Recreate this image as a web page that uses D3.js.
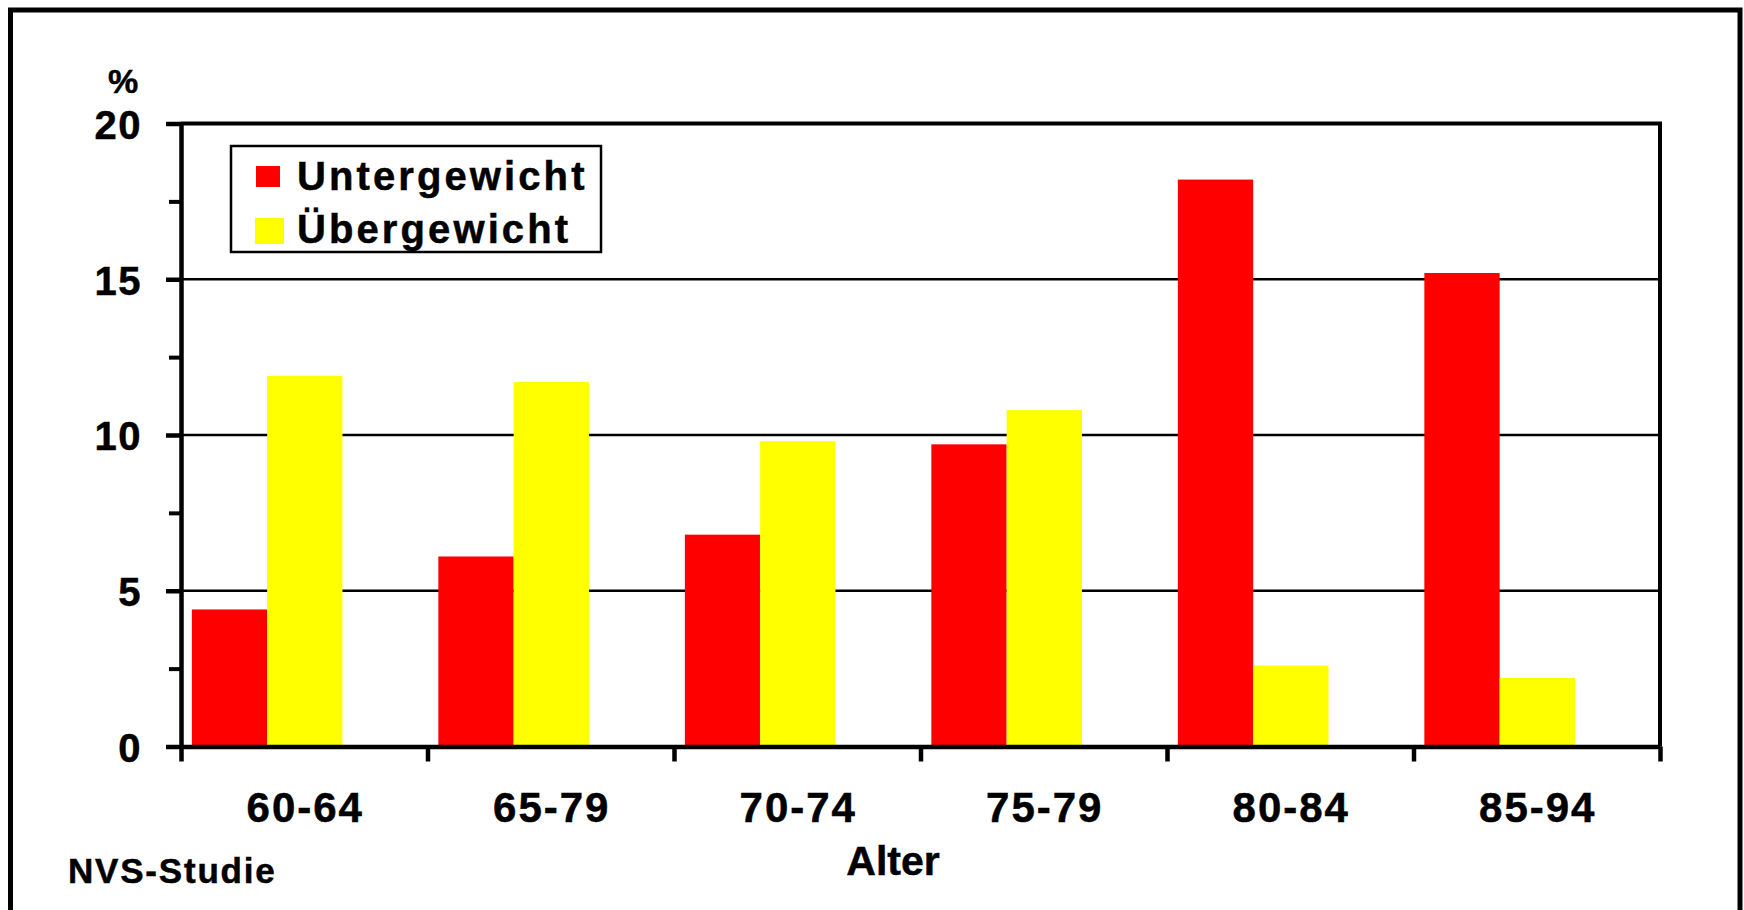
<!DOCTYPE html>
<html>
<head>
<meta charset="utf-8">
<script src="https://cdn.jsdelivr.net/npm/d3@7"></script>
<style>
  html, body { margin: 0; padding: 0; background: #fff; }
  svg { display: block; }
  text { font-family: "Liberation Sans", Arial, sans-serif; font-weight: bold; fill: #000; stroke: #000; stroke-width: 0.5px; }
</style>
</head>
<body>
<svg id="chart" width="1744" height="910"></svg>
<script>
// Age groups and the share (%) of under- and overweight per group
const categories = ["60-64", "65-79", "70-74", "75-79", "80-84", "85-94"];
const seriesNames = ["Untergewicht", "Übergewicht"];
const untergewicht = [4.4, 6.1, 6.8, 9.7, 18.2, 15.2];
const uebergewicht = [11.9, 11.7, 9.8, 10.8, 2.6, 2.2];
const yTicks = [0, 5, 10, 15, 20];
const yMinorTicks = [2.5, 7.5, 12.5, 17.5];
const colors = ["#ff0000", "#ffff00"];

const rows = categories.map((c, i) => ({ cat: c, values: [untergewicht[i], uebergewicht[i]] }));

const svg = d3.select("#chart");
const plot = { left: 181, right: 1660, top: 123.5, bottom: 746.5 };

// Outer frame
svg.append("rect")
  .attr("x", 10.5).attr("y", 10)
  .attr("width", 1740 - 10.5).attr("height", 930)
  .attr("fill", "none").attr("stroke", "#000").attr("stroke-width", 5);

const x = d3.scaleBand().domain(categories).range([plot.left, plot.right]).padding(0);
const bw = x.bandwidth();
const xInner = d3.scaleBand().domain([0, 1]).range([0.044 * bw, 0.655 * bw]).padding(0);
const y = d3.scaleLinear().domain([0, 20]).range([plot.bottom, plot.top]);

// Horizontal gridlines
svg.append("g").selectAll("line")
  .data([5, 10, 15]).join("line")
  .attr("x1", plot.left).attr("x2", plot.right)
  .attr("y1", d => y(d)).attr("y2", d => y(d))
  .attr("stroke", "#000").attr("stroke-width", 2.5);

// Top and right edge of the plot area
svg.append("line")
  .attr("x1", plot.left).attr("x2", plot.right + 2)
  .attr("y1", y(20)).attr("y2", y(20))
  .attr("stroke", "#000").attr("stroke-width", 4);
svg.append("line")
  .attr("x1", plot.right).attr("x2", plot.right)
  .attr("y1", y(20)).attr("y2", plot.bottom)
  .attr("stroke", "#000").attr("stroke-width", 4);

// Bars
svg.append("g").selectAll("g")
  .data(rows).join("g")
  .attr("transform", d => `translate(${x(d.cat)},0)`)
  .selectAll("rect")
  .data(d => d.values.map((v, k) => ({ v, k })))
  .join("rect")
  .attr("x", d => xInner(d.k))
  .attr("width", xInner.bandwidth())
  .attr("y", d => y(d.v))
  .attr("height", d => y(0) - y(d.v))
  .attr("fill", d => colors[d.k]);

// Y axis: major ticks with labels
const yAxis = svg.append("g")
  .attr("transform", `translate(${plot.left},0)`)
  .call(d3.axisLeft(y).tickValues(yTicks).tickSize(15).tickPadding(24).tickSizeOuter(0));
yAxis.select(".domain").attr("stroke", "#000").attr("stroke-width", 4.5);
yAxis.selectAll(".tick line").attr("stroke", "#000").attr("stroke-width", 4.5);
yAxis.selectAll(".tick text")
  .attr("font-size", 40).attr("font-family", null).attr("fill", null)
  .attr("letter-spacing", 1.5)
  .attr("dy", "0.37em");

// Y axis: minor ticks
const yMinor = svg.append("g")
  .attr("transform", `translate(${plot.left},0)`)
  .call(d3.axisLeft(y).tickValues(yMinorTicks).tickSize(12).tickFormat("").tickSizeOuter(0));
yMinor.select(".domain").remove();
yMinor.selectAll(".tick line").attr("stroke", "#000").attr("stroke-width", 4);

// X axis: ticks at the category boundaries
const xb = d3.scaleLinear().domain([0, categories.length]).range([plot.left, plot.right]);
const xAxis = svg.append("g")
  .attr("transform", `translate(0,${plot.bottom})`)
  .call(d3.axisBottom(xb).tickValues(d3.range(categories.length + 1)).tickSize(15).tickFormat("").tickSizeOuter(0));
xAxis.select(".domain").attr("stroke", "#000").attr("stroke-width", 4.5);
xAxis.selectAll(".tick line").attr("stroke", "#000").attr("stroke-width", 4.5);

// Category labels
svg.append("g").selectAll("text")
  .data(categories).join("text")
  .attr("x", d => x(d) + bw / 2 + 1)
  .attr("y", 822)
  .attr("text-anchor", "middle")
  .attr("font-size", 42)
  .attr("letter-spacing", 2)
  .text(d => d);

// Axis titles
svg.append("text")
  .attr("x", 123).attr("y", 93)
  .attr("text-anchor", "middle")
  .attr("font-size", 34)
  .text("%");
svg.append("text")
  .attr("x", 893).attr("y", 875)
  .attr("text-anchor", "middle")
  .attr("font-size", 41)
  .text("Alter");

// Source note
svg.append("text")
  .attr("x", 68).attr("y", 883)
  .attr("font-size", 35)
  .attr("letter-spacing", 1.8)
  .text("NVS-Studie");

// Legend
const legend = svg.append("g");
legend.append("rect")
  .attr("x", 231).attr("y", 146)
  .attr("width", 370).attr("height", 106)
  .attr("fill", "#fff").attr("stroke", "#000").attr("stroke-width", 2.5);
const swatches = [
  { x: 256, y: 166, w: 24, h: 21 },
  { x: 255, y: 218, w: 29, h: 26 }
];
legend.selectAll("rect.sw")
  .data(seriesNames).join("rect")
  .attr("class", "sw")
  .attr("x", (d, i) => swatches[i].x).attr("y", (d, i) => swatches[i].y)
  .attr("width", (d, i) => swatches[i].w).attr("height", (d, i) => swatches[i].h)
  .attr("fill", (d, i) => colors[i]);
legend.selectAll("text")
  .data(seriesNames).join("text")
  .attr("x", 297)
  .attr("y", (d, i) => [190, 243][i])
  .attr("font-size", 40)
  .attr("letter-spacing", 3.1)
  .text(d => d);
</script>
</body>
</html>
